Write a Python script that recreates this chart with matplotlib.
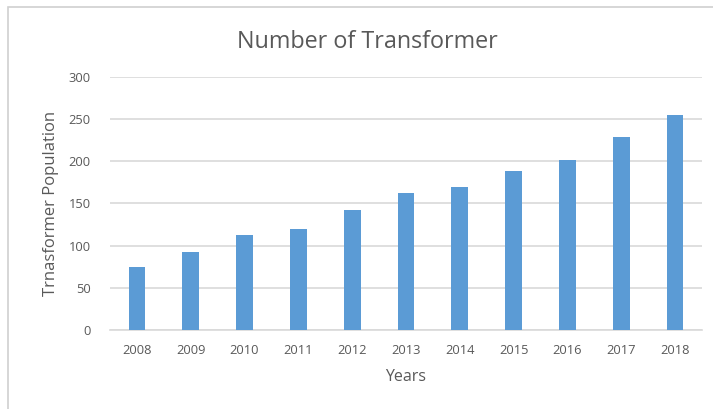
import matplotlib.pyplot as plt
from matplotlib.patches import Rectangle

years = ['2008', '2009', '2010', '2011', '2012', '2013',
         '2014', '2015', '2016', '2017', '2018']
population = [75, 92, 113, 120, 142, 163, 169, 188, 201, 229, 255]
y_ticks = [0, 50, 100, 150, 200, 250, 300]

W, H = 713, 409
fig = plt.figure(figsize=(W / 100, H / 100), dpi=100)
plt.rcParams['font.family'] = ['Open Sans', 'DejaVu Sans']
text_color = '#595959'
grid_color = '#d9d9d9'

# chart border like the office chart frame
fig.patches.append(Rectangle((8 / W, -0.1), 1.1, 1 - 7 / H + 0.1,
                             transform=fig.transFigure, fill=False,
                             edgecolor='#d0d0d0', linewidth=1.2))

ax = fig.add_axes([110 / W, 1 - 330 / H, (702 - 110) / W, (330 - 77) / H])
ax.bar(range(len(years)), population, width=0.31, color='#5B9BD5', zorder=3)
ax.set_xlim(-0.5, len(years) - 0.5)
ax.set_ylim(0, 300)
ax.set_yticks(y_ticks)
ax.set_xticks(range(len(years)))
ax.set_xticklabels(years)
ax.grid(axis='y', color=grid_color, linewidth=1.2, zorder=0)
for s in ['top', 'right', 'left']:
    ax.spines[s].set_visible(False)
ax.spines['bottom'].set_color(grid_color)
ax.spines['bottom'].set_linewidth(1.2)
ax.tick_params(length=0, labelsize=9.3, labelcolor=text_color)
ax.tick_params(axis='x', pad=10)
ax.tick_params(axis='y', pad=14)

ax.set_xlabel('Years', fontsize=11.5, color=text_color, labelpad=9)
ax.set_ylabel('Trnasformer Population', fontsize=12, color=text_color, labelpad=7)
fig.text(367 / W, 1 - 42 / H, 'Number of Transformer', fontsize=16.8,
         color=text_color, ha='center', va='center')

fig.savefig('out.png', dpi=100)
